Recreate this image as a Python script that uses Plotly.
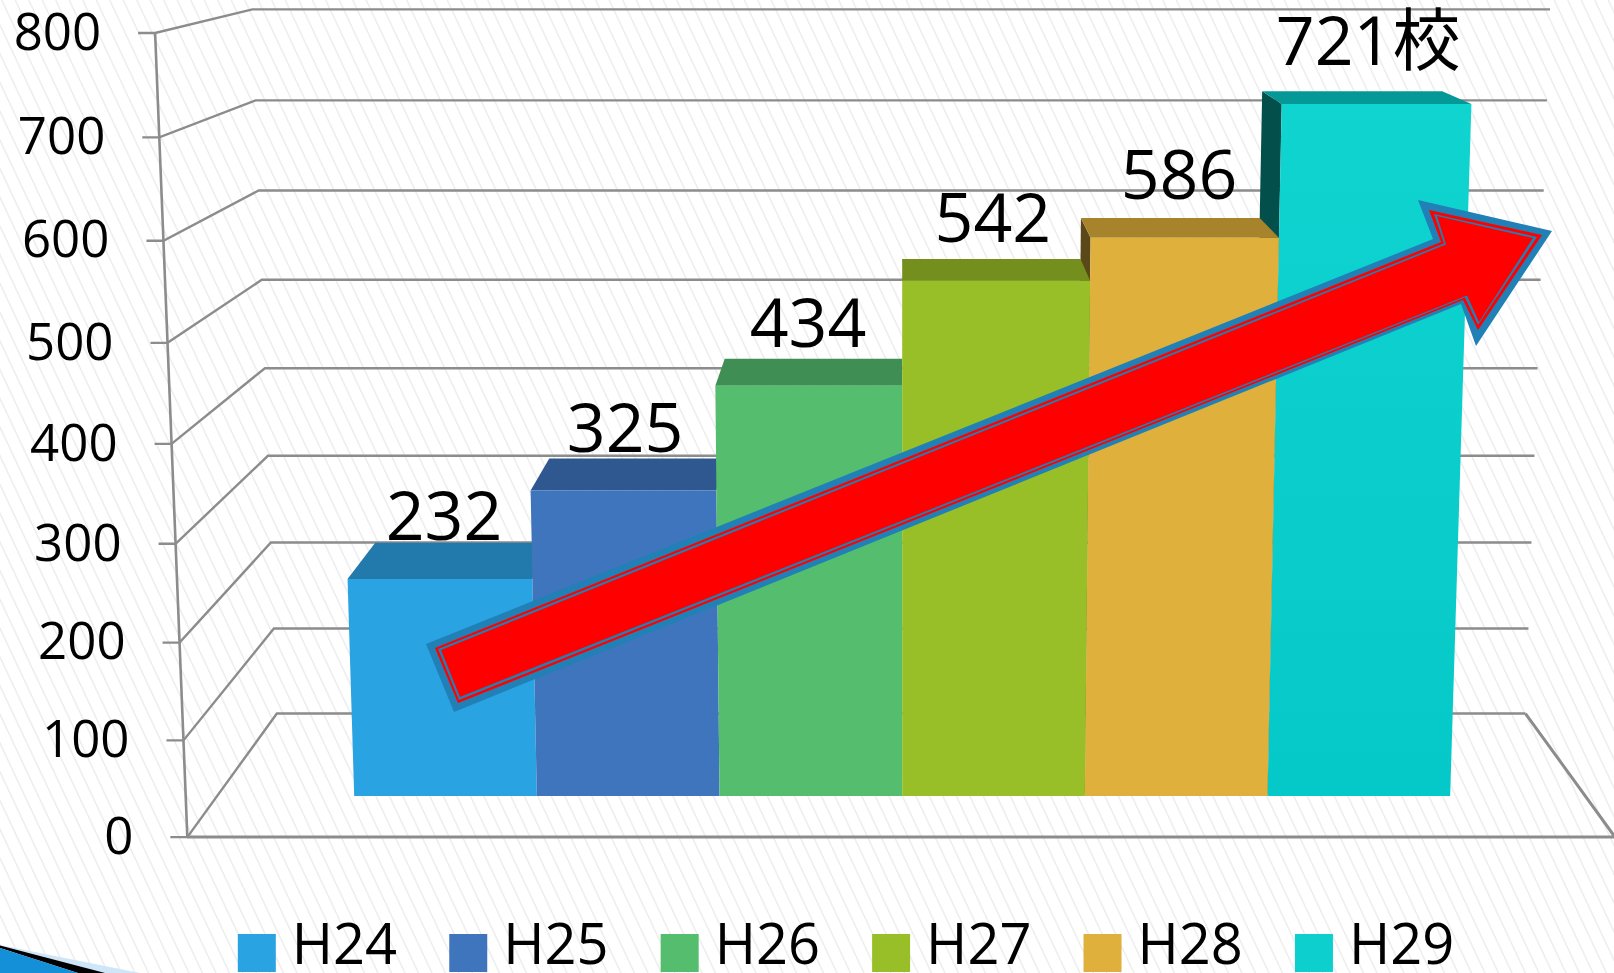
import plotly.graph_objects as go

# ---- data ----
categories = ["H24", "H25", "H26", "H27", "H28", "H29"]
values = [232, 325, 434, 542, 586, 721]
value_labels = ["232", "325", "434", "542", "586", "721校"]
tick_values = [0, 100, 200, 300, 400, 500, 600, 700, 800]
tick_labels = ["0", "100", "200", "300", "400", "500", "600", "700", "800"]

front_colors = ["#2aa3e2", "#3f75bc", "#55bd6e", "#98bf28", "#dfb13c", "#0dd0ce"]
top_colors = ["#217aab", "#2f5890", "#3f8e53", "#748f1d", "#a7832c", "#049896"]
side_colors = ["#154f70", "#1f3a60", "#2a5f38", "#4d5f13", "#5b4818", "#024f4c"]

W, H = 1614, 973
SX, SY = W / 1568, H / 945
FONT = "Open Sans, Noto Sans CJK JP, sans-serif"
GRID = "#8c8c8c"

# ---- perspective model of the PowerPoint 3-D chart ----
CX = 875.5
P, Q = 5.4e-5, 0.1434
ALPHA, BETA = -0.978, -20.6
WALL_U = 693.5
BAR_U = 185.2
D_FRONT, D_BACK = 0.3044, 0.683


def project(u, v, d):
    w = 1 - P * v + Q * d
    return (CX + u / w) * SX, (813 + ALPHA * v + BETA * d) / w * SY


def poly(corners):
    pts = [project(*c) for c in corners]
    pts.append(pts[0])
    return [p[0] for p in pts], [p[1] for p in pts]


fig = go.Figure()


def add_fill(xs, ys, color, name=None, gradient=None):
    kw = dict(fillgradient=gradient) if gradient else dict(fillcolor=color)
    fig.add_trace(go.Scatter(x=xs, y=ys, mode="lines", line=dict(width=0, color=color),
                             fill="toself", name=name, showlegend=False,
                             hoverinfo="skip", **kw))


def add_line(xs, ys, width=2.4, color=GRID):
    fig.add_trace(go.Scatter(x=xs, y=ys, mode="lines", line=dict(width=width, color=color),
                             showlegend=False, hoverinfo="skip"))


# hatched slide background
hx, hy = [], []
step, slope = 13.5, 0.47
x0 = -slope * H
while x0 < W:
    hx += [x0, x0 + slope * H, None]
    hy += [0, H, None]
    x0 += step
add_line(hx, hy, width=1.6, color="#eeeeee")

# slide-corner swoosh
add_fill([0, 140, 46, 0], [945, 973, 973, 945], "#cfe6f8")
add_fill([0, 105, 78, 0, 0], [945.5, 973, 973, 948, 945.5], "#000000")
add_fill([0, 78, 0, 0], [948, 973, 973, 948], "#1490d8")

# walls and floor
for tv in tick_values:
    a = project(-WALL_U, tv, 0)
    b = project(-WALL_U, tv, 1)
    c = project(WALL_U, tv, 1)
    add_line([a[0] - 17, a[0], b[0], c[0]], [a[1], a[1], b[1], c[1]])
f0 = project(-WALL_U, 0, 0)
f1 = project(WALL_U, 0, 0)
f2 = project(WALL_U, 0, 1)
add_line([f0[0], f1[0], f2[0]], [f0[1], f1[1], f2[1]], width=3)
t0 = project(-WALL_U, tick_values[-1], 0)
add_line([t0[0], f0[0]], [t0[1], f0[1]], width=2.6)

# axis labels
lab = [project(-WALL_U, tv, 0) for tv in tick_values]
fig.add_trace(go.Scatter(x=[p[0] - 54 for p in lab], y=[p[1] + 4 for p in lab], mode="text",
                         text=tick_labels, textposition="middle left", cliponaxis=False,
                         textfont=dict(family=FONT, size=51, color="#000000"),
                         showlegend=False, hoverinfo="skip"))


# bars: outside-in painter order about the vanishing centre
def left_u(i):
    return BAR_U * (i - 3) + 1


order = [0, 1, 2, 5, 4, 3]
for i in order:
    v = values[i]
    u0, u1 = left_u(i), left_u(i) + BAR_U
    if i > 3:
        xs, ys = poly([(u0, 0, D_FRONT), (u0, v, D_FRONT), (u0, v, D_BACK), (u0, 0, D_BACK)])
        add_fill(xs, ys, side_colors[i])
    xs, ys = poly([(u0, v, D_FRONT), (u1, v, D_FRONT), (u1, v, D_BACK), (u0, v, D_BACK)])
    add_fill(xs, ys, top_colors[i])
    xs, ys = poly([(u0, 0, D_FRONT), (u1, 0, D_FRONT), (u1, v, D_FRONT), (u0, v, D_FRONT)])
    grad = None
    if i == 5:
        grad = dict(type="vertical", colorscale=[[0, "#05c8c8"], [1, "#10d4d0"]])
    add_fill(xs, ys, front_colors[i], name=categories[i], gradient=grad)

# value labels
lx, ly = [], []
for i, v in enumerate(values):
    mid = left_u(i) + BAR_U / 2
    lx.append(project(mid, v, 0.40)[0] - 2)
    ly.append(project(mid, v, D_FRONT)[1] - 56)
fig.add_trace(go.Scatter(x=lx, y=ly, mode="text", text=value_labels, textposition="middle center",
                         cliponaxis=False,
                         textfont=dict(family=FONT, size=68, color="#000000"),
                         showlegend=False, hoverinfo="skip"))

# hand-placed legend (square swatches clipped by the slide edge)
leg_x = [(231 + 205.4 * i + 18.5) * SX for i in range(len(categories))]
leg_y = [925.5 * SY] * len(categories)
fig.add_trace(go.Scatter(x=leg_x, y=leg_y, mode="markers",
                         marker=dict(symbol="square", size=38, color=front_colors, line=dict(width=0)),
                         showlegend=False, hoverinfo="skip", cliponaxis=False))
fig.add_trace(go.Scatter(x=[x + 35 for x in leg_x], y=[923 * SY] * len(categories), mode="text",
                         text=categories, textposition="middle right", cliponaxis=False,
                         textfont=dict(family=FONT, size=56, color="#000000"),
                         showlegend=False, hoverinfo="skip"))


# rising red arrow (drawn as an annotation shape)
def path(pts):
    return "M " + " L ".join(f"{x},{y}" for x, y in pts) + " Z"


outer = [(426, 644), (1433, 239), (1418, 200), (1552, 231), (1476, 346), (1461, 304), (454, 712)]
red1 = [(435, 648), (1441, 242), (1429, 210), (1542, 235), (1478, 330), (1463, 300), (458, 703)]
blue2 = [(438, 649), (1444, 243.5), (1434, 214), (1537, 237), (1478, 325), (1465, 297.5), (459, 700)]
red2 = [(441, 650), (1446, 244.5), (1437, 216), (1533, 238), (1479, 322), (1467, 295.5), (460, 697)]
shapes = []
for pts, col in [(outer, "#2180b5"), (red1, "#ff0000"), (blue2, "#2180b5"), (red2, "#ff0000")]:
    shapes.append(dict(type="path", path=path(pts), xref="x", yref="y", fillcolor=col,
                       line=dict(width=0), layer="above"))

fig.update_layout(
    width=W, height=H, margin=dict(l=0, r=0, t=0, b=0),
    paper_bgcolor="#ffffff", plot_bgcolor="#ffffff", showlegend=False,
    xaxis=dict(range=[0, W], visible=False, fixedrange=True),
    yaxis=dict(range=[H, 0], visible=False, fixedrange=True),
    shapes=shapes,
)
fig.write_html("out.html", config=dict(displayModeBar=False),
               post_script="document.body.style.margin='0';")
